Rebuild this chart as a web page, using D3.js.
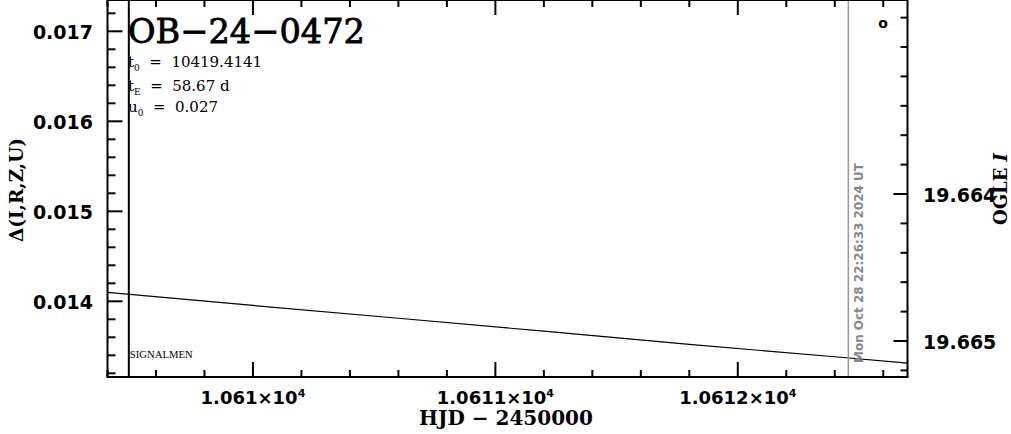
<!DOCTYPE html>
<html><head><meta charset="utf-8">
<script src="https://cdn.jsdelivr.net/npm/d3@7"></script>
<style>html,body{margin:0;padding:0;background:#fff;overflow:hidden}text{white-space:pre}</style>
</head><body>
<svg id="c" width="1011" height="434"></svg>
<script>
// ---- data ----
const hjd   = [10609.4, 10610.0, 10610.6, 10611.2, 10611.8, 10612.4, 10612.7];
const delta = [0.01410, 0.013954, 0.013812, 0.013668, 0.013521, 0.013384, 0.013314];
const xDomain = [10609.40, 10612.70];
const yDomain = [0.013159, 0.017348];
const magDomain = [19.66268, 19.665245];
const xMajor = [10610, 10611, 10612];
const xMajorLabels = ["1.061", "1.0611", "1.0612"];
const yMajor = [0.014, 0.015, 0.016, 0.017];
const yMajorLabels = ["0.014", "0.015", "0.016", "0.017"];
const magMajor = [19.664, 19.665];
const magMajorLabels = ["19.664", "19.665"];
const eventName = "OB−24−0472";
const params = [["t", "0", "  =  10419.4141"], ["t", "E", "  =  58.67 d"], ["u", "0", "  =  0.027"]];
const alertHJD = 10609.488;
const nowHJD = 10612.456;
const nowLabel = "Mon Oct 28 22:26:33 2024 UT";

// ---- layout ----
const L = 107.5, R = 907.5, T = 0, B = 377;
const svg = d3.select("#c");
const x = d3.scaleLinear().domain(xDomain).range([L, R]);
const y = d3.scaleLinear().domain(yDomain).range([B, T]);
const m = d3.scaleLinear().domain(magDomain).range([T, B]);

const minorX = d3.range(10609.4, 10612.71, 0.2).map(v => +v.toFixed(1));
const minorY = d3.range(0.0132, 0.01735, 0.0002).map(v => +v.toFixed(4));
const minorM = d3.range(19.6628, 19.66525, 0.0002).map(v => +v.toFixed(4));

svg.append("defs").append("clipPath").attr("id", "clip")
  .append("rect").attr("x", L).attr("y", T).attr("width", R - L).attr("height", B - T);

// model line
svg.append("path")
  .datum(hjd.map((h, i) => [h, delta[i]]))
  .attr("clip-path", "url(#clip)")
  .attr("fill", "none").attr("stroke", "#000").attr("stroke-width", 1.2)
  .attr("d", d3.line().x(d => x(d[0])).y(d => y(d[1])));

// now line
svg.append("line").attr("x1", x(nowHJD)).attr("x2", x(nowHJD)).attr("y1", T).attr("y2", B)
  .attr("stroke", "#999").attr("stroke-width", 1.5);
svg.append("text")
  .attr("transform", `translate(${x(nowHJD) + 15},${B - 14}) rotate(-90)`)
  .attr("font-family", "DejaVu Sans").attr("font-weight", "bold").attr("font-size", 13)
  .attr("fill", "#888").attr("textLength", 200).attr("lengthAdjust", "spacingAndGlyphs")
  .text(nowLabel);

// alert line
svg.append("line").attr("x1", x(alertHJD)).attr("x2", x(alertHJD)).attr("y1", T).attr("y2", B)
  .attr("stroke", "#000").attr("stroke-width", 2);
svg.append("text").attr("x", x(alertHJD) + 1).attr("y", 358)
  .attr("font-family", "Liberation Serif").attr("font-size", 10)
  .attr("textLength", 63).attr("lengthAdjust", "spacingAndGlyphs")
  .text("SIGNALMEN");

// frame
svg.append("rect").attr("x", L).attr("y", T).attr("width", R - L).attr("height", B - T)
  .attr("fill", "none").attr("stroke", "#000").attr("stroke-width", 2);

const tick = (x1, y1, x2, y2) => svg.append("line")
  .attr("x1", x1).attr("y1", y1).attr("x2", x2).attr("y2", y2)
  .attr("stroke", "#000").attr("stroke-width", 2);

// x ticks
minorX.forEach(v => {
  const big = xMajor.some(t => Math.abs(t - v) < 1e-6);
  const len = big ? 15 : 7;
  tick(x(v), B, x(v), B - len);
  tick(x(v), T, x(v), T + len);
});
// left ticks
minorY.forEach(v => {
  const big = yMajor.some(t => Math.abs(t - v) < 1e-7);
  tick(L, y(v), L + (big ? 15 : 8), y(v));
});
// right ticks
minorM.forEach(v => {
  const big = magMajor.some(t => Math.abs(t - v) < 1e-7);
  tick(R, m(v), R - (big ? 14 : 7), m(v));
});

// x labels
xMajor.forEach((v, i) => {
  const t = svg.append("text").attr("x", x(v)).attr("y", 404).attr("text-anchor", "middle")
    .attr("font-family", "DejaVu Sans").attr("font-weight", "bold").attr("font-size", 18);
  t.append("tspan").text(xMajorLabels[i] + "×10");
  t.append("tspan").attr("dy", -7).attr("font-size", 11).text("4");
});
// left labels
yMajor.forEach((v, i) => {
  svg.append("text").attr("x", 93).attr("y", y(v) + 8).attr("text-anchor", "end")
    .attr("font-family", "DejaVu Sans").attr("font-weight", "bold").attr("font-size", 19)
    .text(yMajorLabels[i]);
});
// right labels
magMajor.forEach((v, i) => {
  svg.append("text").attr("x", 923).attr("y", m(v) + 8)
    .attr("font-family", "DejaVu Sans").attr("font-weight", "bold").attr("font-size", 19)
    .text(magMajorLabels[i]);
});

// axis titles
svg.append("text").attr("x", 506).attr("y", 425).attr("text-anchor", "middle")
  .attr("font-family", "DejaVu Serif").attr("font-weight", "bold").attr("font-size", 20)
  .attr("textLength", 174).attr("lengthAdjust", "spacingAndGlyphs")
  .text("HJD − 2450000");
svg.append("text").attr("transform", "translate(23,190) rotate(-90)").attr("text-anchor", "middle")
  .attr("font-family", "DejaVu Serif").attr("font-weight", "bold").attr("font-size", 19)
  .attr("textLength", 104).attr("lengthAdjust", "spacingAndGlyphs")
  .text("Δ(I,R,Z,U)");
const rt = svg.append("text").attr("transform", "translate(1007,189) rotate(-90)").attr("text-anchor", "middle")
  .attr("font-family", "DejaVu Serif").attr("font-weight", "bold").attr("font-size", 18)
  .attr("textLength", 72).attr("lengthAdjust", "spacingAndGlyphs");
rt.append("tspan").text("OGLE ");
rt.append("tspan").attr("font-style", "italic").text("I");

// title and parameters
svg.append("text").attr("x", 128).attr("y", 43)
  .attr("font-family", "DejaVu Serif").attr("font-size", 34)
  .attr("stroke", "#000").attr("stroke-width", 0.8)
  .attr("textLength", 237).attr("lengthAdjust", "spacingAndGlyphs")
  .text(eventName);
const py = [67, 91, 112];
params.forEach((p, i) => {
  const t = svg.append("text").attr("x", 128).attr("y", py[i])
    .attr("font-family", "DejaVu Serif").attr("font-size", 15);
  t.append("tspan").text(p[0]);
  t.append("tspan").attr("dy", 4).attr("font-size", 9).text(p[1]);
  t.append("tspan").attr("dy", -4).text(p[2]);
});

// small marker label at top right
svg.append("text").attr("x", 883).attr("y", 28).attr("text-anchor", "middle")
  .attr("font-family", "DejaVu Sans").attr("font-weight", "bold").attr("font-size", 14)
  .text("o");
</script>
</body></html>
